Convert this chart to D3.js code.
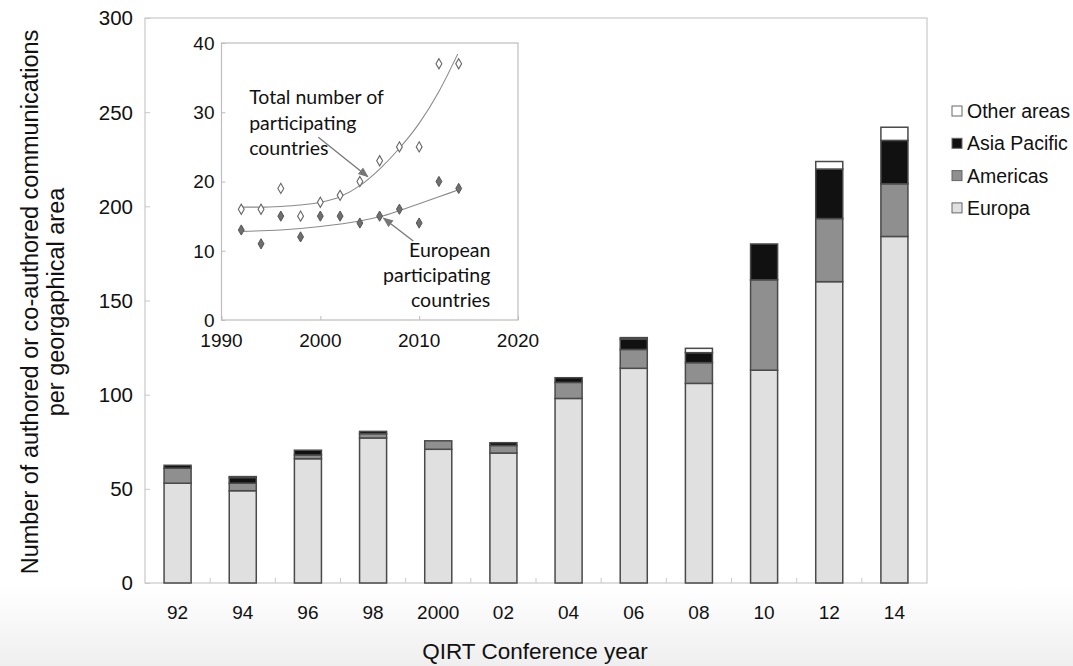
<!DOCTYPE html>
<html>
<head>
<meta charset="utf-8">
<script src="https://cdn.jsdelivr.net/npm/d3@7"></script>
<style>
  html, body { margin: 0; padding: 0; background: #fff; }
  svg { display: block; }
  text { font-family: "Liberation Sans", Arial, sans-serif; fill: #111; }
</style>
</head>
<body>
<svg id="chart" width="1073" height="666"></svg>
<script>
// ---------------- Data ----------------
const years = ["92", "94", "96", "98", "2000", "02", "04", "06", "08", "10", "12", "14"];
const seriesNames = ["Europa", "Americas", "Asia Pacific", "Other areas"];
const europa   = [53, 49, 66, 77, 71, 69, 98, 114, 106, 113, 160, 184];
const americas = [8, 4, 2, 2.3, 4.5, 4, 8.5, 10, 11, 48, 33.5, 28];
const asia     = [1.5, 3, 2.5, 1.2, 0, 1.5, 2.5, 5.5, 5.3, 19, 26.3, 23];
const other    = [0, 0.5, 0, 0, 0, 0, 0, 0.8, 2.3, 0, 4, 7];
const yTicks = [0, 50, 100, 150, 200, 250, 300];

// Inset data
const insetYears = [1992, 1994, 1996, 1998, 2000, 2002, 2004, 2006, 2008, 2010, 2012, 2014];
const totalCountries    = [16, 16, 19, 15, 17, 18, 20, 23, 25, 25, 37, 37];
const europeanCountries = [13, 11, 15, 12, 15, 15, 14, 15, 16, 14, 20, 19];
// trend lines
const totalTrendYears = [1992, 1994, 1996, 1998, 2000, 2002, 2004, 2006, 2008, 2010, 2012, 2013.9];
const totalTrend      = [16.3, 16.3, 16.4, 16.6, 17.0, 17.8, 19.4, 21.8, 24.8, 28.4, 33.0, 38.4];
const euroTrendYears  = [1992, 1996, 2000, 2004, 2006, 2008, 2010, 2012, 2014];
const euroTrend       = [12.8, 13.0, 13.5, 14.3, 14.9, 15.8, 16.8, 17.8, 18.8];
const insetXTicks = [1990, 2000, 2010, 2020];
const insetYTicks = [0, 10, 20, 30, 40];

const colors = { "Europa": "#e0e0e0", "Americas": "#8f8f8f", "Asia Pacific": "#111111", "Other areas": "#ffffff" };

// ---------------- Layout ----------------
const svg = d3.select("#chart");
const W = 1073, H = 666;
const plot = { left: 145, right: 927, top: 18, bottom: 583 };

// background gradient at bottom
const defs = svg.append("defs");
const grad = defs.append("linearGradient").attr("id", "bg").attr("x1", 0).attr("y1", 0).attr("x2", 0).attr("y2", 1);
grad.append("stop").attr("offset", "0%").attr("stop-color", "#ffffff");
grad.append("stop").attr("offset", "88%").attr("stop-color", "#ffffff");
grad.append("stop").attr("offset", "100%").attr("stop-color", "#efefef");
svg.append("rect").attr("width", W).attr("height", H).attr("fill", "url(#bg)");

const x = d3.scaleBand().domain(years).range([plot.left, plot.right]).paddingInner(0.585).paddingOuter(0.2925);
const y = d3.scaleLinear().domain([0, 300]).range([plot.bottom, plot.top]);

// plot frame
svg.append("rect")
  .attr("x", plot.left).attr("y", plot.top)
  .attr("width", plot.right - plot.left).attr("height", plot.bottom - plot.top)
  .attr("fill", "none").attr("stroke", "#c8c8c8").attr("stroke-width", 1.2);

// y axis ticks (inward) and labels
const yAxis = d3.axisRight(y).tickValues(yTicks).tickSize(5).tickFormat("");
svg.append("g").attr("transform", `translate(${plot.left},0)`).call(yAxis)
  .call(g => g.select(".domain").remove())
  .call(g => g.selectAll("line").attr("stroke", "#c8c8c8"));
svg.append("g").selectAll("text").data(yTicks).join("text")
  .attr("x", plot.left - 12).attr("y", d => y(d)).attr("dy", "0.36em")
  .attr("text-anchor", "end").style("font-size", "20.5px").text(d => d);

// x axis: boundary ticks pointing up
const bandStep = x.step();
const boundaries = d3.range(1, years.length).map(i => plot.left + i * bandStep);
svg.append("g").selectAll("line").data(boundaries).join("line")
  .attr("x1", d => d).attr("x2", d => d)
  .attr("y1", plot.bottom).attr("y2", plot.bottom - 5)
  .attr("stroke", "#c8c8c8");
svg.append("g").selectAll("text").data(years).join("text")
  .attr("x", d => x(d) + x.bandwidth() / 2).attr("y", 619)
  .attr("text-anchor", "middle")
  .style("font-size", "19px").text(d => d);

// stacked bars
const rows = years.map((yr, i) => ({ year: yr, "Europa": europa[i], "Americas": americas[i], "Asia Pacific": asia[i], "Other areas": other[i] }));
const stack = d3.stack().keys(seriesNames)(rows);
const gBars = svg.append("g");
stack.forEach(layer => {
  gBars.append("g").selectAll("rect").data(layer.filter(d => d[1] - d[0] > 0)).join("rect")
    .attr("x", d => x(d.data.year))
    .attr("width", x.bandwidth())
    .attr("y", d => y(d[1]))
    .attr("height", d => y(d[0]) - y(d[1]))
    .attr("fill", colors[layer.key])
    .attr("stroke", "#4a4a4a").attr("stroke-width", 1.5);
});

// axis titles
svg.append("text").attr("x", 535).attr("y", 659).attr("text-anchor", "middle")
  .style("font-size", "22.5px").text("QIRT Conference year");
const yt = svg.append("g").attr("transform", "translate(0,302) rotate(-90)");
yt.append("text").attr("x", 0).attr("y", 38).attr("text-anchor", "middle")
  .style("font-size", "23.5px").text("Number of authored or co-authored communications");
yt.append("text").attr("x", 0).attr("y", 64).attr("text-anchor", "middle")
  .style("font-size", "23.5px").text("per georgaphical area");

// legend
const legendOrder = ["Other areas", "Asia Pacific", "Americas", "Europa"];
const lg = svg.append("g").selectAll("g").data(legendOrder).join("g")
  .attr("transform", (d, i) => `translate(952,${111 + i * 32.3})`);
lg.append("rect").attr("x", 0).attr("y", -5).attr("width", 10).attr("height", 10)
  .attr("fill", d => colors[d]).attr("stroke", "#666").attr("stroke-width", 1);
lg.append("text").attr("x", 15).attr("y", 0).attr("dy", "0.36em")
  .style("font-size", "19.5px").text(d => d);

// ---------------- Inset ----------------
const inset = { left: 221.5, right: 518, top: 43, bottom: 320 };
const ix = d3.scaleLinear().domain([1990, 2020]).range([inset.left, inset.right]);
const iy = d3.scaleLinear().domain([0, 40]).range([inset.bottom, inset.top]);
const gi = svg.append("g");
gi.append("rect").attr("x", inset.left).attr("y", inset.top)
  .attr("width", inset.right - inset.left).attr("height", inset.bottom - inset.top)
  .attr("fill", "#fff").attr("stroke", "#bdbdbd").attr("stroke-width", 1.2);
// ticks inward
gi.append("g").attr("transform", `translate(${inset.left},0)`)
  .call(d3.axisRight(iy).tickValues(insetYTicks).tickSize(4).tickFormat(""))
  .call(g => g.select(".domain").remove())
  .call(g => g.selectAll("line").attr("stroke", "#bdbdbd"));
gi.append("g").attr("transform", `translate(0,${inset.bottom})`)
  .call(d3.axisTop(ix).tickValues(insetXTicks).tickSize(4).tickFormat(""))
  .call(g => g.select(".domain").remove())
  .call(g => g.selectAll("line").attr("stroke", "#bdbdbd"));
gi.append("g").selectAll("text").data(insetYTicks).join("text")
  .attr("x", inset.left - 7).attr("y", d => iy(d)).attr("dy", "0.36em")
  .attr("text-anchor", "end").style("font-size", "19px").text(d => d);
gi.append("g").selectAll("text").data(insetXTicks).join("text")
  .attr("x", d => ix(d)).attr("y", inset.bottom + 27)
  .attr("text-anchor", "middle").style("font-size", "19px").text(d => d);

// trend lines
const line = d3.line().curve(d3.curveMonotoneX);
gi.append("path")
  .attr("d", line(totalTrendYears.map((yr, i) => [ix(yr), iy(totalTrend[i])])))
  .attr("fill", "none").attr("stroke", "#8a8a8a").attr("stroke-width", 1.1);
gi.append("path")
  .attr("d", line(euroTrendYears.map((yr, i) => [ix(yr), iy(euroTrend[i])])))
  .attr("fill", "none").attr("stroke", "#8a8a8a").attr("stroke-width", 1.1);

// diamonds
const diamond = d3.symbol().type(d3.symbolDiamond).size(30);
gi.append("g").selectAll("path").data(insetYears).join("path")
  .attr("transform", (d, i) => `translate(${ix(d)},${iy(totalCountries[i])})`)
  .attr("d", diamond).attr("fill", "#fff").attr("stroke", "#666").attr("stroke-width", 1.1);
gi.append("g").selectAll("path").data(insetYears).join("path")
  .attr("transform", (d, i) => `translate(${ix(d)},${iy(europeanCountries[i])})`)
  .attr("d", diamond).attr("fill", "#6f6f6f").attr("stroke", "#555").attr("stroke-width", 1);

// annotation arrows
defs.append("marker").attr("id", "arrow").attr("viewBox", "0 0 10 10")
  .attr("refX", 9).attr("refY", 5).attr("markerWidth", 8).attr("markerHeight", 8)
  .attr("orient", "auto-start-reverse")
  .append("path").attr("d", "M0,1 L10,5 L0,9 z").attr("fill", "#777");
const arrows = [
  { from: [1999.8, 26.4], to: [2004.8, 20.7] },
  { from: [2009.4, 11.4], to: [2006.4, 14.7] }
];
gi.append("g").selectAll("line").data(arrows).join("line")
  .attr("x1", d => ix(d.from[0])).attr("y1", d => iy(d.from[1]))
  .attr("x2", d => ix(d.to[0])).attr("y2", d => iy(d.to[1]))
  .attr("stroke", "#777").attr("stroke-width", 1.3).attr("marker-end", "url(#arrow)");

// annotation texts
const totalLabel = ["Total number of", "participating", "countries"];
gi.append("g").selectAll("text").data(totalLabel).join("text")
  .attr("x", ix(1992.8)).attr("y", (d, i) => iy(32.2) + i * 25.5).attr("dy", "0.36em")
  .style("font-family", "Lato, 'Open Sans', sans-serif").style("font-size", "19.5px").text(d => d);
const euroLabel = ["European", "participating", "countries"];
gi.append("g").selectAll("text").data(euroLabel).join("text")
  .attr("x", ix(2017.2)).attr("y", (d, i) => iy(10.1) + i * 25).attr("dy", "0.36em")
  .attr("text-anchor", "end")
  .style("font-family", "Lato, 'Open Sans', sans-serif").style("font-size", "19.5px").text(d => d);
</script>
</body>
</html>
